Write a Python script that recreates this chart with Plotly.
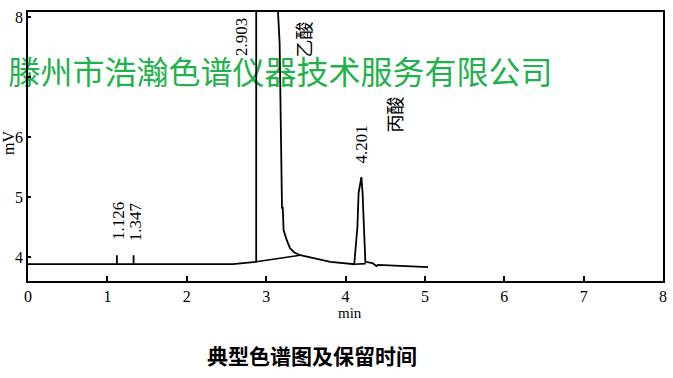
import plotly.graph_objects as go

# ---- data ----
time_min = [0.0, 2.58, 2.875, 2.876, 3.14, 3.15, 3.17, 3.195, 3.20, 3.21, 3.215,
            3.22, 3.26, 3.30, 3.35, 3.43, 3.81, 4.11, 4.15, 4.165, 4.20, 4.215,
            4.23, 4.25, 4.34, 4.39, 4.41, 5.04]
signal_mv = [3.88, 3.88, 3.92, 30.0, 30.0, 8.08, 7.57, 5.28, 4.82, 4.82, 4.47,
             4.45, 4.28, 4.15, 4.08, 4.03, 3.92, 3.88, 4.50, 5.07, 5.33, 5.07,
             4.57, 3.92, 3.90, 3.85, 3.87, 3.83]

# integration baselines
base_x = [2.875, 3.43, None, 4.11, 4.255]
base_y = [3.92, 4.03, None, 3.88, 3.89]

# small peak-start markers
mark_x = [1.12, 1.12, None, 1.33, 1.33]
mark_y = [3.88, 4.03, None, 3.88, 4.03]

# retention time labels
rt_labels = ["1.126", "1.347", "2.903", "4.201"]
rt_x = [1.135, 1.356, 2.69, 4.20]
rt_y = [4.60, 4.59, 7.66, 5.88]

# compound names
name_labels = ["乙酸", "丙酸"]
name_x = [3.47, 4.615]
name_y = [7.63, 6.38]

x_ticks = [0, 1, 2, 3, 4, 5, 6, 7, 8]
y_ticks = [4, 5, 6, 7, 8]
y_ticktext = ["4", "5", "6", "", "8"]

watermark = "滕州市浩瀚色谱仪器技术服务有限公司"
caption = "典型色谱图及保留时间"

SERIF = "Liberation Serif"
CJK = "Noto Sans CJK SC"

fig = go.Figure()

# watermark under the lines
fig.add_trace(go.Scatter(
    x=[3.18], y=[7.01], mode="text", text=[watermark],
    textfont=dict(family=CJK, size=32, color="rgb(34,177,76)"),
    textposition="middle center", cliponaxis=False, hoverinfo="skip",
    showlegend=False))

fig.add_trace(go.Scatter(x=time_min, y=signal_mv, mode="lines",
                         line=dict(color="black", width=1.8), showlegend=False))
fig.add_trace(go.Scatter(x=base_x, y=base_y, mode="lines",
                         line=dict(color="black", width=1.6), showlegend=False))
fig.add_trace(go.Scatter(x=mark_x, y=mark_y, mode="lines",
                         line=dict(color="black", width=1.8), showlegend=False))

for t, x, y in zip(rt_labels, rt_x, rt_y):
    fig.add_annotation(x=x, y=y, xref="x", yref="y", text=t, showarrow=False,
                       textangle=-90, xanchor="center", yanchor="middle",
                       font=dict(family=SERIF, size=17, color="black"))
for t, x, y in zip(name_labels, name_x, name_y):
    fig.add_annotation(x=x, y=y, xref="x", yref="y", text=t, showarrow=False,
                       textangle=-90, xanchor="center", yanchor="middle",
                       font=dict(family=CJK, size=18, color="black"))

fig.add_annotation(x=0.507, y=-0.118, xref="paper", yref="paper", text="min",
                   showarrow=False, xanchor="center", yanchor="middle",
                   font=dict(family=SERIF, size=15, color="black"))
fig.add_annotation(x=-0.0315, y=0.513, xref="paper", yref="paper", text="mV",
                   showarrow=False, textangle=-90, xanchor="center", yanchor="middle",
                   font=dict(family=SERIF, size=16, color="black"))
fig.add_annotation(x=0.447, y=-0.275, xref="paper", yref="paper", text="<b>" + caption + "</b>",
                   showarrow=False, xanchor="center", yanchor="middle",
                   font=dict(family=CJK, size=21, color="black"))

fig.update_layout(
    width=673, height=378,
    margin=dict(l=28, r=10, t=12, b=97),
    paper_bgcolor="white", plot_bgcolor="white",
    font=dict(family=SERIF, size=16, color="black"),
    xaxis=dict(range=[0, 8], tickvals=x_ticks, ticks="inside", ticklen=5,
               tickwidth=1.5, tickcolor="black", showline=True, linewidth=1.8,
               linecolor="black", mirror=True, showgrid=False, zeroline=False,
               automargin=False,
               tickfont=dict(family=SERIF, size=16, color="black")),
    yaxis=dict(range=[3.6, 8.083], tickvals=y_ticks, ticktext=y_ticktext,
               ticks="inside", ticklen=3, tickwidth=1.5, tickcolor="black",
               showline=True, linewidth=1.8, linecolor="black", mirror=True,
               showgrid=False, zeroline=False, automargin=False,
               tickfont=dict(family=SERIF, size=16, color="black")),
)

fig.write_html(
    "out.html",
    config={"displayModeBar": False},
    post_script="document.body.style.margin='0';document.body.style.overflow='hidden';",
)
